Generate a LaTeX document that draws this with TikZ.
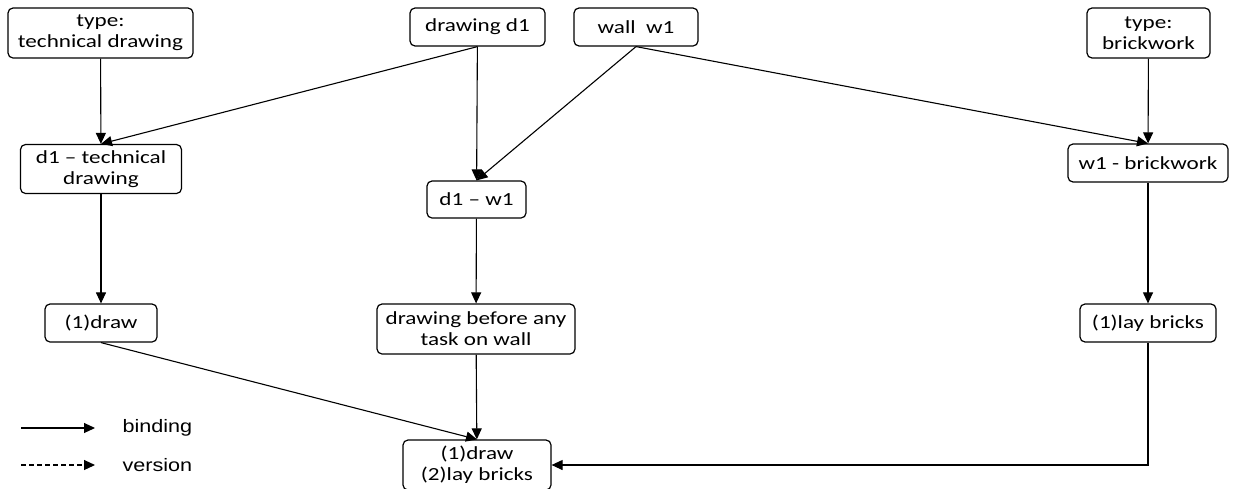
\documentclass[tikz,border=0pt]{standalone}
\usepackage{fontspec}
\newfontfamily\boxfont[FakeStretch=1.25]{Carlito}
\newfontfamily\legfont[FakeStretch=1.2]{Liberation Sans}
\usetikzlibrary{arrows.meta}
\tikzset{box/.style={draw, rounded corners=5pt, line width=1.2pt, align=center,
           inner sep=0pt, font=\boxfont\fontsize{18.5}{21}\selectfont},
         link/.style={draw, line width=1.1pt, -{Triangle[length=11pt,width=10pt]}},
         legtext/.style={anchor=west, font=\legfont\fontsize{18}{20}\selectfont}}

\begin{document}
\begin{tikzpicture}[x=1pt,y=-1pt]
    \useasboundingbox (0,0) rectangle (1233,488);

    \node[box, minimum width=185pt, minimum height=50pt] (tTD) at (100.5,33)
    {type:\\technical drawing}; \node[box, minimum width=135pt, minimum
    height=38pt] (dd1) at (477.5,27) {drawing d1}; \node[box, minimum
    width=124pt, minimum height=38pt] (ww1) at (636,27) {wall\ \ w1};
    \node[box, minimum width=123pt, minimum height=50pt] (tBW) at
    (1148.5,33) {type:\\brickwork};

    \node[box, minimum width=161pt, minimum height=49pt] (d1TD) at
    (101,169) {d1 \textendash{} technical\\drawing}; \node[box, minimum
    width=99pt, minimum height=37pt] (d1w1) at (476.5,199.5) {d1
    \textendash{} w1}; \node[box, minimum width=160pt, minimum height=38pt]
    (w1BW) at (1148,163) {w1 - brickwork};

    \node[box, minimum width=112pt, minimum height=38pt] (draw1) at
    (101,323) {(1)draw}; \node[box, minimum width=198pt, minimum
    height=50pt] (before) at (476,329) {drawing before any\\task on wall};
    \node[box, minimum width=136pt, minimum height=38pt] (lay1) at
    (1148,323) {(1)lay bricks};

    \node[box, minimum width=148pt, minimum height=50pt] (final) at
    (477,465) {(1)draw\\(2)lay bricks};

    \draw[link] (tTD) -- (d1TD); \draw[link] (dd1.south) -- (d1TD.north);
    \draw[link] (dd1) -- (d1w1); \draw[link] (ww1.south) -- (d1w1.north);
    \draw[link] (ww1.south) -- (w1BW.north); \draw[link] (tBW) -- (w1BW);

    \draw[link] (d1TD) -- (draw1); \draw[link] (d1w1) -- (before);
    \draw[link] (w1BW) -- (lay1);

    \draw[link] (draw1.south) -- (final.north); \draw[link] (before) --
    (final); \draw[link] (lay1.south) |- (final.east);

    % legend
    \coordinate (b0) at (21,428); \coordinate (b1) at (95,428);
    \coordinate (v0) at (21,465); \coordinate (v1) at (95,465);
    \draw[link] (b0) -- (b1); \draw[link, dash pattern=on 5pt off 3pt]
    (v0) -- (v1);
    \node[legtext] (bind) at (119,428) {binding}; \node[legtext] (vers) at
    (119,465) {version};

\end{tikzpicture}
\end{document}
